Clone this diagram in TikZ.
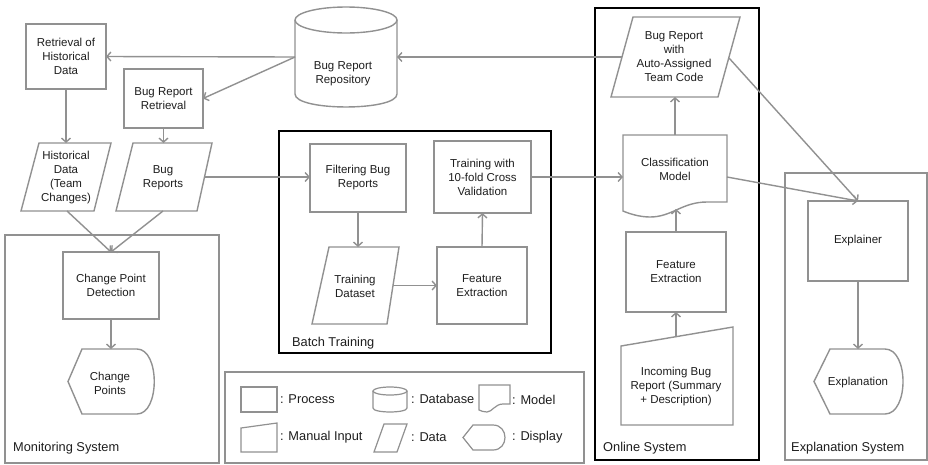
\documentclass[tikz,border=0pt]{standalone}
\usepackage{fontspec}
\setmainfont{Liberation Sans}
\usetikzlibrary{arrows.meta}
\definecolor{ln}{RGB}{145,145,145}
\definecolor{tx}{RGB}{30,30,30}
\begin{document}
\begin{tikzpicture}[x=1pt,y=-1pt,
  shp/.style={draw=ln, line width=1.4pt, line join=miter},
  txt/.style={text=tx, font=\fontsize{11.5}{14}\selectfont, align=center, inner sep=0pt, outer sep=0pt},
  proc/.style={txt, rectangle},
  arr/.style={draw=ln, line width=1.4pt, -{Straight Barb[length=4pt,width=9pt]}},
  grp/.style={draw=ln, line width=1.2pt},
  grpk/.style={draw=black, line width=1.6pt},
  lbl/.style={text=tx, font=\fontsize{12.8}{15}\selectfont, anchor=west, inner sep=0pt}]
\useasboundingbox[fill=white] (0,0) rectangle (928,464);

% group frames
\draw[grp] (5,235) -- (219,235) -- (219,463) -- (5,463) -- cycle;
\draw[grpk] (279,131) -- (551,131) -- (551,353) -- (279,353) -- cycle;
\draw[grp] (225,372) -- (584,372) -- (584,463) -- (225,463) -- cycle;
\draw[grpk] (595,8) -- (759,8) -- (759,460) -- (595,460) -- cycle;
\draw[grp] (785,173) -- (927,173) -- (927,460) -- (785,460) -- cycle;
\node[lbl] (lmon) at (13,448) {Monitoring System};
\node[lbl] (lbat) at (292,343) {Batch Training};
\node[lbl] (lonl) at (603,448) {Online System};
\node[lbl] (lexp) at (791,448) {Explanation System};

% repository cylinder
\draw[shp, fill=white] (295,20) -- (295,94) .. controls (295,111.3) and (397,111.3) .. (397,94) -- (397,20);
\draw[shp] (346,20) ellipse [x radius=51pt, y radius=13pt];
\node[txt] (repo) at (343,74) {Bug Report\\Repository};
\coordinate (repoW) at (295,57);
\coordinate (repoE) at (397,57);

% process boxes
\node[proc, minimum width=80pt, minimum height=65pt] (ret) at (66,56.5) {Retrieval of\\Historical\\Data};
\node[proc, minimum width=79pt, minimum height=59pt] (brr) at (163.5,98.5) {Bug Report\\Retrieval};
\node[proc, minimum width=96pt, minimum height=68pt] (filt) at (358,178) {Filtering Bug\\Reports};
\node[proc, minimum width=97pt, minimum height=72pt] (train) at (482.5,177) {Training with\\10-fold Cross\\Validation};
\node[proc, minimum width=90pt, minimum height=77pt] (fe1) at (482,285.5) {Feature\\Extraction};
\node[proc, minimum width=100pt, minimum height=80pt] (fe2) at (676,272) {Feature\\Extraction};
\node[proc, minimum width=96pt, minimum height=67pt] (cpd) at (111,285.5) {Change Point\\Detection};
\node[proc, minimum width=100pt, minimum height=80pt] (expl) at (858,241) {Explainer};
\foreach \n in {ret,brr,filt,train,fe1,fe2,cpd,expl}
  \draw[shp] (\n.north west) -- (\n.north east) -- (\n.south east) -- (\n.south west) -- cycle;

% data parallelograms
\draw[shp] (39,143) -- (111,143) -- (94,211) -- (21,211) -- cycle;
\node[txt] (hist) at (66,178) {Historical\\Data\\ (Team\\Changes)};
\coordinate (histT) at (66,143);
\coordinate (histB) at (67,211);

\draw[shp] (133,143) -- (212,143) -- (197,211) -- (116,211) -- cycle;
\node[txt] (bugs) at (163,177.5) {Bug\\Reports};
\coordinate (bugsT) at (163.5,143);
\coordinate (bugsB) at (163,211);
\coordinate (bugsE) at (204.5,177);

\draw[shp] (329,247) -- (399,247) -- (387,324) -- (312,324) -- cycle;
\node[txt] (tds) at (355,286) {Training\\Dataset};
\coordinate (tdsT) at (358,247);
\coordinate (tdsE) at (393,285.5);

\draw[shp] (633,17) -- (740,17) -- (718,97) -- (611,97) -- cycle;
\node[txt] (auto) at (674,57) {Bug Report\\with\\Auto-Assigned\\Team Code};
\coordinate (autoB) at (675,97);
\coordinate (autoW) at (622,57);
\coordinate (autoE) at (729,58);

% classification model (document)
\draw[shp] (623,135) -- (727,135) -- (727,202) -- (707,202) .. controls (682,202) and (672,217) .. (650,217) .. controls (640,217) and (630,214) .. (623,211) -- cycle;
\node[txt] (cm) at (675,169) {Classification\\Model};
\coordinate (cmT) at (675,135);
\coordinate (cmB) at (676,209);
\coordinate (cmW) at (623,177);
\coordinate (cmE) at (727,177);

% incoming bug report (manual input)
\draw[shp] (621,346) -- (733,327) -- (733,425) -- (621,425) -- cycle;
\node[txt] (inc) at (676,386.5) {Incoming Bug\\Report (Summary\\+ Description)};
\coordinate (incT) at (676,336.5);

% displays
\draw[shp] (68,381.5) -- (82,349) -- (137,349) .. controls (160,349) and (160,414) .. (137,414) -- (82,414) -- cycle;
\node[txt] (cp) at (110,383) {Change\\Points};
\coordinate (cpT) at (111,349);

\draw[shp] (814,381.5) -- (830,349) -- (885,349) .. controls (909,349) and (909,414) .. (885,414) -- (830,414) -- cycle;
\node[txt] (expn) at (858,383) {Explanation};
\coordinate (expnT) at (858,349);

% connectors
\draw[arr] (repoW) -- (ret.east);
\draw[arr] (repoW) -- (brr.east);
\draw[arr] (autoW) -- (repoE);
\draw[arr] (ret.south) -- (histT);
\draw[arr] (brr.south) -- (bugsT);
\draw[arr] (bugsE) -- (filt.west |- bugsE);
\draw[arr] (histB) -- (cpd.north);
\draw[arr] (bugsB) -- (cpd.north);
\draw[arr] (cpd.south) -- (cpT);
\draw[arr] (filt.south) -- (tdsT);
\draw[arr] (tdsE) -- (fe1.west);
\draw[arr] (fe1.north) -- (train.south);
\draw[arr] (train.east) -- (cmW);
\draw[arr] (fe2.north) -- (cmB);
\draw[arr] (incT) -- (fe2.south);
\draw[arr] (cmT) -- (autoB);
\draw[arr] (autoE) -- (expl.north);
\draw[arr] (cmE) -- (expl.north);
\draw[arr] (expl.south) -- (expnT);

% legend
\draw[shp, line width=1.2pt] (241,387) -- (277,387) -- (277,412) -- (241,412) -- cycle;
\node[lbl] (lgp) at (280,399) {: Process};
\draw[shp, line width=1.2pt] (373,391) -- (373,408) .. controls (373,413.3) and (407,413.3) .. (407,408) -- (407,391);
\draw[shp, line width=1.2pt] (390,391) ellipse [x radius=17pt, y radius=4pt];
\node[lbl] (lgd) at (411,399) {: Database};
\draw[shp, line width=1.2pt] (479,385) -- (510,385) -- (510,404) -- (503,404) .. controls (495,404) and (492,412) .. (487,412) .. controls (484,412) and (481,411) .. (479,410) -- cycle;
\node[lbl] (lgm) at (512,400) {: Model};
\draw[shp, line width=1.2pt] (241,428) -- (277,423) -- (277,452) -- (241,452) -- cycle;
\node[lbl] (lgi) at (280,437) {: Manual Input};
\draw[shp, line width=1.2pt] (384,424) -- (407,424) -- (397,452) -- (374,452) -- cycle;
\node[lbl] (lgda) at (411,437) {: Data};
\draw[shp, line width=1.2pt] (463,437.5) -- (473,425) -- (493,425) .. controls (509,425) and (509,450) .. (493,450) -- (473,450) -- cycle;
\node[lbl] (lgdi) at (512,437) {: Display};
\end{tikzpicture}
\end{document}
